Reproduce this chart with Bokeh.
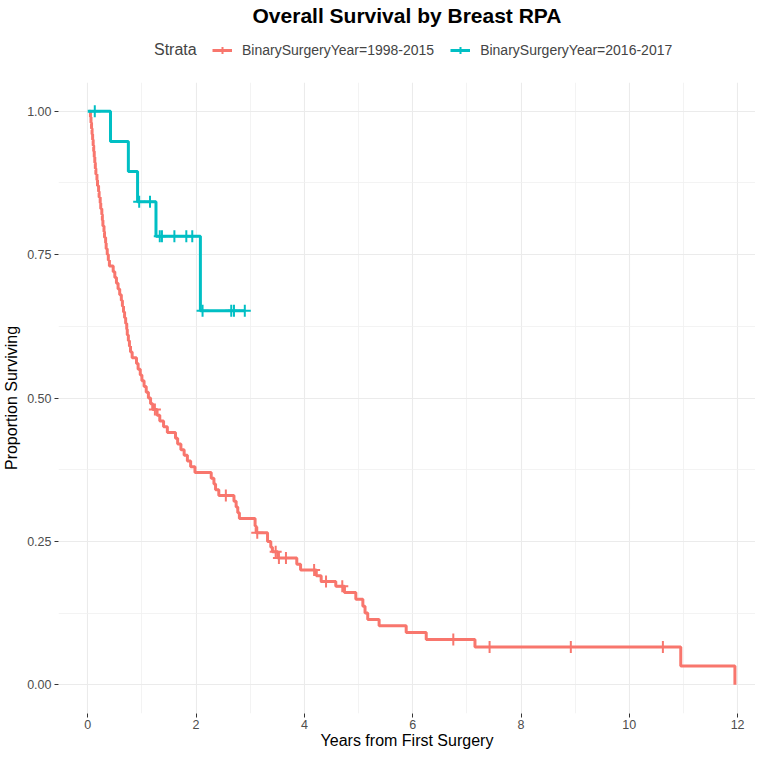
import numpy as np
from bokeh.plotting import figure
from bokeh.layouts import column
from bokeh.models import (FixedTicker, PrintfTickFormatter, Legend, LegendItem,
                          Range1d)
from bokeh.embed import file_html
from bokeh.resources import INLINE

# ---------------- data ----------------
strata = ["BinarySurgeryYear=1998-2015", "BinarySurgeryYear=2016-2017"]
colors = ["#F8766D", "#00BFC4"]

# stratum 1998-2015: step start times (years) and survival after each step
red_t = [0.03, 0.05, 0.06, 0.07, 0.08, 0.09, 0.10, 0.11, 0.12, 0.13, 0.14, 0.15,
         0.17, 0.18, 0.20, 0.21, 0.23, 0.24, 0.26, 0.27, 0.28, 0.30, 0.31, 0.33,
         0.34, 0.36, 0.38, 0.40, 0.47, 0.50, 0.53, 0.56, 0.59, 0.62, 0.64, 0.66,
         0.68, 0.70, 0.72, 0.73, 0.75, 0.77, 0.79, 0.82, 0.90, 0.93, 0.97, 1.00,
         1.04, 1.08, 1.12, 1.16, 1.20, 1.28, 1.33, 1.40, 1.47, 1.62, 1.66, 1.72,
         1.78, 1.84, 1.90, 1.98, 2.28, 2.33, 2.36, 2.42, 2.70, 2.74, 2.77, 2.80,
         3.09, 3.11, 3.32, 3.38, 3.41, 3.51, 3.86, 3.93, 4.22, 4.31, 4.58, 4.74,
         4.95, 5.08, 5.12, 5.17, 5.38, 5.88, 6.25, 7.15, 10.95, 11.95]
red_s = [1.00, 0.99, 0.98, 0.97, 0.96, 0.95, 0.94, 0.93, 0.92, 0.91, 0.90, 0.89,
         0.88, 0.87, 0.86, 0.85, 0.84, 0.83, 0.82, 0.81, 0.80, 0.79, 0.78, 0.77,
         0.76, 0.75, 0.74, 0.73, 0.72, 0.71, 0.70, 0.69, 0.68, 0.67, 0.66, 0.65,
         0.64, 0.63, 0.62, 0.61, 0.60, 0.59, 0.58, 0.57, 0.56, 0.55, 0.54, 0.53,
         0.52, 0.51, 0.50, 0.49, 0.48, 0.47, 0.46, 0.45, 0.44, 0.43, 0.42, 0.41,
         0.40, 0.39, 0.38, 0.37, 0.36, 0.35, 0.34, 0.33, 0.32, 0.31, 0.30, 0.29,
         0.277, 0.265, 0.25, 0.24, 0.232, 0.221, 0.21, 0.20, 0.19, 0.18, 0.172, 0.161,
         0.149, 0.137, 0.125, 0.114, 0.103, 0.091, 0.079, 0.066, 0.033, 0.0]
red_cens = [1.24, 2.55, 3.13, 3.47, 3.53, 3.66, 4.18, 4.40, 4.70, 6.75, 7.42,
            8.92, 10.62]

# stratum 2016-2017
teal_t = [0.0, 0.42, 0.75, 0.92, 1.26, 2.08, 2.90]
teal_s = [1.0, 0.947, 0.895, 0.842, 0.782, 0.652, 0.652]
teal_cens = [0.13, 0.95, 1.15, 1.33, 1.37, 1.60, 1.82, 1.93, 2.12, 2.65, 2.70, 2.90]

x_ticks = [0, 2, 4, 6, 8, 10, 12]
x_minor = [1, 3, 5, 7, 9, 11]
y_ticks = [0.0, 0.25, 0.5, 0.75, 1.0]
y_minor = [0.125, 0.375, 0.625, 0.875]


def surv_at(ts, ss, times):
    ts = np.asarray(ts)
    ss = np.asarray(ss)
    idx = np.searchsorted(ts, np.asarray(times), side="right") - 1
    return ss[np.clip(idx, 0, len(ss) - 1)]


FONT = "Liberation Sans"
W = 755
TOP_H = 76
MAIN_H = 751 - TOP_H
LEFT = 51
LINE_W = 3
CROSS_SIZE = 12
CROSS_W = 2

curves = [(red_t, red_s, red_cens), (teal_t, teal_s, teal_cens)]

# ---------------- header: title + legend ----------------
# ranges far from the data so the legend's renderers stay out of view
top = figure(width=W, height=TOP_H, output_backend="svg", toolbar_location=None,
             x_range=Range1d(100, 101), y_range=Range1d(100, 101),
             min_border_left=LEFT, min_border_right=0, min_border_top=0,
             min_border_bottom=0, title="Overall Survival by Breast RPA")
top.axis.visible = False
top.grid.visible = False
top.outline_line_color = None
top.title.align = "center"
top.title.text_font = FONT
top.title.text_font_size = "21px"
top.title.text_font_style = "bold"
top.title.text_color = "black"
top.title.standoff = 2

dummy = top.scatter(x=red_t[:1], y=red_s[:1], marker="circle", size=1,
                    fill_alpha=0, line_alpha=0)
head = Legend(items=[LegendItem(label="Strata", renderers=[dummy])],
              orientation="horizontal", location=(96, 17),
              border_line_color=None, background_fill_alpha=0,
              label_text_font=FONT, label_text_font_size="16px",
              glyph_width=0, glyph_height=18, label_standoff=0,
              padding=2, margin=0)
top.add_layout(head)

items = []
for (ts, ss, cens), col, lab in zip(curves, colors, strata):
    ll = top.line(x=ts, y=ss, line_color=col, line_width=LINE_W)
    lc = top.scatter(x=cens, y=surv_at(ts, ss, cens), marker="cross",
                     size=CROSS_SIZE, line_color=col, line_width=CROSS_W)
    items.append(LegendItem(label=lab, renderers=[ll, lc]))

legend = Legend(items=items, orientation="horizontal", location=(154, 17),
                border_line_color=None, background_fill_alpha=0,
                label_text_font=FONT, label_text_font_size="14px",
                glyph_width=20, glyph_height=18, spacing=16, label_standoff=10,
                padding=2, margin=0)
top.add_layout(legend)

# ---------------- main survival plot ----------------
p = figure(width=W, height=MAIN_H, output_backend="svg", toolbar_location=None,
           x_range=Range1d(-0.54, 12.33), y_range=Range1d(-0.05, 1.05),
           min_border_left=LEFT, min_border_right=0, min_border_top=6,
           min_border_bottom=30)
p.outline_line_color = None
p.background_fill_color = "white"

for (ts, ss, cens), col in zip(curves, colors):
    p.step(x=ts, y=ss, mode="after", line_color=col, line_width=LINE_W)
    p.scatter(x=cens, y=surv_at(ts, ss, cens), marker="cross", size=CROSS_SIZE,
              line_color=col, line_width=CROSS_W)

for ax in (p.xaxis[0], p.yaxis[0]):
    ax.axis_line_color = None
    ax.major_tick_line_color = "#333333"
    ax.major_tick_in = 0
    ax.major_tick_out = 4
    ax.minor_tick_line_color = None
    ax.major_label_text_font = FONT
    ax.major_label_text_font_size = "12.5px"
    ax.major_label_text_color = "#4D4D4D"
    ax.major_label_text_line_height = 1.0
    ax.axis_label_text_font = FONT
    ax.axis_label_text_font_size = "16px"
    ax.axis_label_text_font_style = "normal"
    ax.axis_label_text_color = "black"
    ax.axis_label_text_line_height = 1.0
    ax.major_label_standoff = 3

p.xaxis[0].ticker = FixedTicker(ticks=x_ticks, minor_ticks=x_minor)
p.yaxis[0].ticker = FixedTicker(ticks=y_ticks, minor_ticks=y_minor)
p.yaxis[0].formatter = PrintfTickFormatter(format="%.2f")
p.xaxis[0].axis_label = "Years from First Surgery"
p.yaxis[0].axis_label = "Proportion Surviving"
p.xaxis[0].major_label_standoff = 2
p.xaxis[0].axis_label_standoff = 0
p.yaxis[0].axis_label_standoff = 4

for g in (p.xgrid[0], p.ygrid[0]):
    g.grid_line_color = "#EBEBEB"
    g.grid_line_width = 1.1
    g.minor_grid_line_color = "#F0F0F0"
    g.minor_grid_line_width = 0.8

layout = column(top, p, spacing=0)
open("out.html", "w").write(file_html(layout, INLINE))
